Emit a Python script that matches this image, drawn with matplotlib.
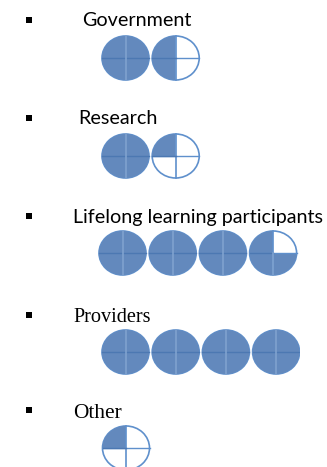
# diagrama de circulos (harvey balls) por grupo de atores
import matplotlib
matplotlib.use("Agg")
import matplotlib.pyplot as plt
from matplotlib.patches import Wedge, Ellipse, Rectangle
from matplotlib.transforms import Affine2D

# dados
grupos = ["Government", "Research", "Lifelong learning participants", "Providers", "Other"]
gov = [1, 0.5]
research = [1, 0.25]
lifelong = [1, 1, 1, 0.75]
providers = [1, 1, 1, 1]
other = [0.25]
valores = [gov, research, lifelong, providers, other]

# layout em pixels
texto_x = [82, 78, 73, 73, 73]
texto_y = [26.5, 124.5, 222.5, 321.5, 418]
bullet_y = [19.5, 117.5, 215.5, 314.5, 410]
circulo_x0 = [125.5, 125.5, 122.5, 125.5, 126]
circulo_y = [58, 156, 253, 352, 448]
fontes = ["Lato", "Lato", "Lato", "Liberation Serif", "Liberation Serif"]
tamanhos = [14.2, 14.2, 14.2, 14.6, 15.4]

AZUL = "#6389bd"
BORDA = "#5f90cc"
ESCURO = "#4c78b2"
CLARO = "#7fa2cf"

fig = plt.figure(figsize=(3.27, 4.67), dpi=100)
ax = fig.add_axes([0, 0, 1, 1])
ax.set_xlim(0, 327)
ax.set_ylim(467, 0)
ax.axis("off")

rx, ry = 23.5, 22
clip = Rectangle((0, 0), 300, 467, transform=ax.transData)


def circulo(cx, cy, frac):
    tr = Affine2D().scale(rx, ry).translate(cx, cy) + ax.transData
    partes = [Ellipse((0, 0), 2, 2, fc="white", ec=BORDA, lw=1.2, transform=tr)]
    # o eixo y esta invertido, entao o angulo cresce em sentido horario na tela:
    # comeca no topo e vai pela esquerda
    partes.append(Wedge((0, 0), 1, 270 - 360 * frac, 270, fc=AZUL, ec="none", transform=tr))
    for p in partes:
        ax.add_patch(p)
        p.set_clip_path(clip)
    # cruz
    cor_v = BORDA if frac < 1 else CLARO
    h, = ax.plot([cx - rx, cx + rx], [cy, cy], color=ESCURO if frac == 1 else BORDA, lw=1.0)
    v, = ax.plot([cx, cx], [cy - ry, cy + ry], color=cor_v, lw=1.2)
    h.set_clip_path(clip)
    v.set_clip_path(clip)
    if 0 < frac < 1:
        # dentro da parte preenchida a cruz fica mais discreta
        ax.plot([cx - rx, cx], [cy, cy], color=ESCURO, lw=1.0)
        if frac == 0.75:
            ax.plot([cx, cx], [cy, cy + ry], color=CLARO, lw=1.2)


for i, nome in enumerate(grupos):
    ax.text(texto_x[i], texto_y[i], nome, family=fontes[i], fontsize=tamanhos[i],
            color="black", ha="left", va="baseline")
    ax.add_patch(Rectangle((26.3, bullet_y[i] - 3), 6, 6, fc="black", ec="none"))
    for j, v in enumerate(valores[i]):
        circulo(circulo_x0[i] + 50.2 * j, circulo_y[i], v)

fig.savefig("out.png", dpi=100)
